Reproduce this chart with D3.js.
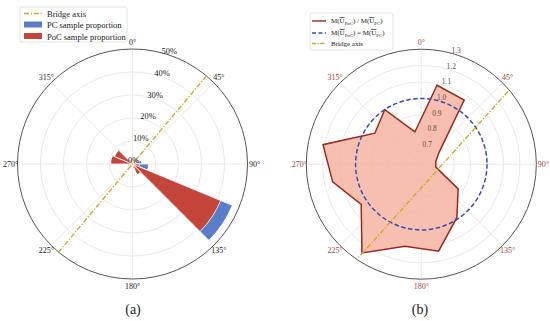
<!DOCTYPE html>
<html>
<head>
<meta charset="utf-8">
<script src="https://cdn.jsdelivr.net/npm/d3@7"></script>
<style>
  body { margin: 0; background: #fff; }
  svg { display: block; }
  text { font-family: "Liberation Serif", "Times New Roman", serif; }
</style>
</head>
<body>
<svg id="chart" width="550" height="321"></svg>
<script>
// direction bins (deg, clockwise from north), 22.5 wide
const binStarts = [0, 22.5, 45, 67.5, 90, 112.5, 135, 157.5, 180, 202.5, 225, 247.5, 270, 292.5, 315, 337.5];
const binWidth = 22.5;
// (a) sample proportions per bin
const pcShare  = [0.010, 0.015, 0.030, 0.040, 0.070, 0.470, 0.020, 0.010, 0.005, 0.005, 0.010, 0.010, 0.040, 0.030, 0.010, 0.010];
const pocShare = [0.015, 0.010, 0.015, 0.025, 0.030, 0.415, 0.050, 0.020, 0.010, 0.015, 0.015, 0.020, 0.095, 0.085, 0.020, 0.015];
// (b) ratio of mean speeds at bin centres
const ratioAngles = [11.25, 33.75, 56.25, 78.75, 101.25, 123.75, 146.25, 168.75, 191.25, 213.75, 236.25, 258.75, 281.25, 303.75, 326.25, 348.75];
const ratioValues = [1.09, 1.07, 0.73, 0.69, 0.69, 0.87, 0.99, 1.14, 1.11, 1.25, 1.04, 1.15, 1.21, 0.94, 1.00, 0.80];
const equalRatio = 1.0;

const angleTicks = [0, 45, 90, 135, 180, 225, 270, 315];
const pctTicks = [0, 0.1, 0.2, 0.3, 0.4, 0.5];
const ratioTicks = [0.7, 0.8, 0.9, 1.0, 1.1, 1.2, 1.3];
const bridgeA = [40, 220];   // bridge axis ends, panel (a)
const bridgeB = [50, 214];   // bridge axis ends, panel (b)

const R = 115;
const rad = d => d * Math.PI / 180;
const pt = (a, r) => [r * Math.sin(rad(a)), -r * Math.cos(rad(a))];

const svg = d3.select("#chart");

const gold = "#d4a41c", blue = "#5a7dc8", red = "#c4463a";

function drawGrid(g, ticks, scale, labelColor) {
  g.selectAll(".ring").data(ticks.filter(t => scale(t) > 0 && scale(t) < R - 1))
    .enter().append("circle")
    .attr("r", d => scale(d)).attr("fill", "none")
    .attr("stroke", "#e2e2e2").attr("stroke-width", 0.8);
  g.selectAll(".spoke").data(angleTicks).enter().append("line")
    .attr("x1", 0).attr("y1", 0)
    .attr("x2", d => pt(d, R)[0]).attr("y2", d => pt(d, R)[1])
    .attr("stroke", "#e2e2e2").attr("stroke-width", 0.8);
  g.append("circle").attr("r", R).attr("fill", "none")
    .attr("stroke", "#555").attr("stroke-width", 1);
  g.selectAll(".alab").data(angleTicks).enter().append("text")
    .attr("x", d => pt(d, R + 7)[0]).attr("y", d => pt(d, R + 7)[1])
    .attr("text-anchor", "middle").attr("dominant-baseline", "central")
    .attr("font-size", 8).attr("fill", labelColor)
    .text(d => d + "°");
}

function bridge(g, ends, rr) {
  const p0 = pt(ends[0], rr), p1 = pt(ends[1], rr);
  g.append("line")
    .attr("x1", p0[0]).attr("y1", p0[1]).attr("x2", p1[0]).attr("y2", p1[1])
    .attr("stroke", gold).attr("stroke-width", 1.3)
    .attr("stroke-dasharray", "5,1.8,1.2,1.8");
}

// ---------- panel (a) ----------
const rA = d3.scaleLinear().domain([0, 0.5]).range([0, R]);
const gA = svg.append("g").attr("transform", "translate(132.5,164)");
drawGrid(gA, pctTicks, rA, "#222");

const arcA = d3.arc().innerRadius(0);
[[pcShare, blue], [pocShare, red]].forEach(([vals, col]) => {
  gA.append("g").selectAll("path").data(vals).enter().append("path")
    .attr("d", (d, i) => arcA({ outerRadius: rA(d), startAngle: rad(binStarts[i]), endAngle: rad(binStarts[i] + binWidth) }))
    .attr("fill", col).attr("stroke", "#fff").attr("stroke-width", 0.8);
});
bridge(gA, bridgeA, rA(0.5));

gA.selectAll(".rlab").data(pctTicks).enter().append("text")
  .attr("x", d => pt(18, rA(d) + 4)[0]).attr("y", d => pt(18, rA(d) + 4)[1])
  .attr("text-anchor", "middle").attr("dominant-baseline", "central")
  .attr("font-size", 8.5).attr("fill", "#222")
  .text(d => d3.format(".0%")(d));

// legend (a)
const legA = svg.append("g").attr("transform", "translate(20,7)");
legA.append("rect").attr("width", 107).attr("height", 35).attr("rx", 2)
  .attr("fill", "#fff").attr("fill-opacity", 0.85).attr("stroke", "#ddd").attr("stroke-width", 0.8);
legA.append("line").attr("x1", 4).attr("x2", 22).attr("y1", 6.5).attr("y2", 6.5)
  .attr("stroke", gold).attr("stroke-width", 1.3).attr("stroke-dasharray", "5,1.8,1.2,1.8");
legA.append("rect").attr("x", 4).attr("y", 14.5).attr("width", 18).attr("height", 6).attr("fill", blue);
legA.append("rect").attr("x", 4).attr("y", 26).attr("width", 18).attr("height", 6).attr("fill", red);
legA.selectAll(".lt").data(["Bridge axis", "PC sample proportion", "PoC sample proportion"])
  .enter().append("text")
  .attr("x", 27).attr("y", (d, i) => 6.5 + i * 11.5)
  .attr("dominant-baseline", "central").attr("font-size", 8.5).attr("fill", "#222")
  .text(d => d);

// ---------- panel (b) ----------
const rB = d3.scaleLinear().domain([0.6, 1.3]).range([0, R]);
const gB = svg.append("g").attr("transform", "translate(421.3,164.2)");
drawGrid(gB, ratioTicks, rB, "#a8432f");

const ratioPts = ratioAngles.map((a, i) => ({ a: a, v: ratioValues[i] }));
const radial = d3.lineRadial().angle(d => rad(d.a)).radius(d => rB(d.v)).curve(d3.curveLinearClosed);
gB.append("path").attr("d", radial(ratioPts))
  .attr("fill", "#f4b4a2").attr("fill-opacity", 0.85)
  .attr("stroke", "#962b20").attr("stroke-width", 1.5).attr("stroke-linejoin", "miter");

gB.append("circle").attr("r", rB(equalRatio)).attr("fill", "none")
  .attr("stroke", "#3a4fb4").attr("stroke-width", 1.5).attr("stroke-dasharray", "4.5,2.5");
bridge(gB, bridgeB, rB(1.29));

gB.selectAll(".rlab").data(ratioTicks).enter().append("text")
  .attr("x", d => pt(17, rB(d) + 4)[0]).attr("y", d => pt(17, rB(d) + 4)[1])
  .attr("text-anchor", "middle").attr("dominant-baseline", "central")
  .attr("font-size", 7.5).attr("fill", "#6a4a40")
  .text(d => d3.format(".1f")(d));

// legend (b)
const legB = svg.append("g").attr("transform", "translate(310,13)");
legB.append("rect").attr("width", 83).attr("height", 37).attr("rx", 2)
  .attr("fill", "#fff").attr("fill-opacity", 0.85).attr("stroke", "#ddd").attr("stroke-width", 0.8);
const legBItems = [
  { stroke: "#962b20", dash: null, op: " / " },
  { stroke: "#3a4fb4", dash: "4,2.5", op: " = " }
];
legBItems.forEach((it, i) => {
  const y = 8 + i * 12;
  legB.append("line").attr("x1", 2).attr("x2", 16).attr("y1", y).attr("y2", y)
    .attr("stroke", it.stroke).attr("stroke-width", 1.4).attr("stroke-dasharray", it.dash);
  const t = legB.append("text").attr("x", 21).attr("y", y).attr("dominant-baseline", "central")
    .attr("font-size", 7).attr("fill", "#222");
  t.append("tspan").text("M(");
  t.append("tspan").style("text-decoration", "overline").text("U");
  t.append("tspan").attr("font-size", 4.8).attr("dy", 1.6).text("PoC");
  t.append("tspan").attr("dy", -1.6).text(")" + it.op + "M(");
  t.append("tspan").style("text-decoration", "overline").text("U");
  t.append("tspan").attr("font-size", 4.8).attr("dy", 1.6).text("PC");
  t.append("tspan").attr("dy", -1.6).text(")");
});
legB.append("line").attr("x1", 2).attr("x2", 16).attr("y1", 30.5).attr("y2", 30.5)
  .attr("stroke", gold).attr("stroke-width", 1.3).attr("stroke-dasharray", "4,1.6,1.1,1.6");
legB.append("text").attr("x", 21).attr("y", 30.5).attr("dominant-baseline", "central")
  .attr("font-size", 7).attr("fill", "#222").text("Bridge axis");

// captions
svg.selectAll(".cap").data([["(a)", 133], ["(b)", 420]]).enter().append("text")
  .attr("x", d => d[1]).attr("y", 309).attr("text-anchor", "middle")
  .attr("dominant-baseline", "central").attr("font-size", 14).attr("fill", "#222")
  .text(d => d[0]);
</script>
</body>
</html>
